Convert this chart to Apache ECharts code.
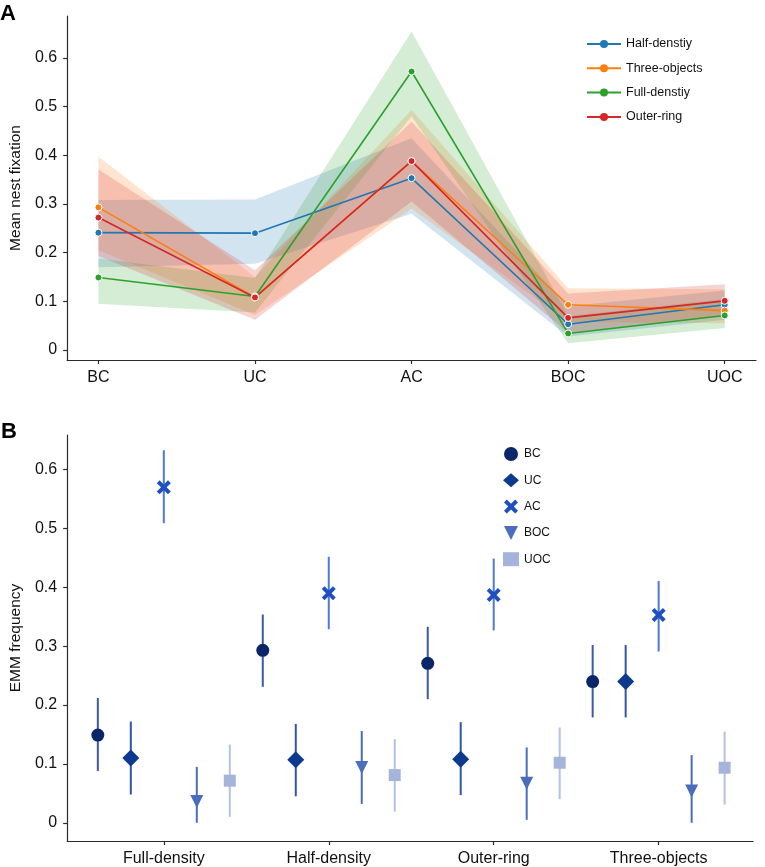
<!DOCTYPE html>
<html>
<head>
<meta charset="utf-8">
<script src="https://cdn.jsdelivr.net/npm/echarts@6/dist/echarts.min.js"></script>
<style>html,body{margin:0;padding:0;background:#fff}#c{width:765px;height:867px}</style>
</head>
<body>
<div id="c"></div>
<script>
// ---------- Panel A data ----------
const catsA = ['BC', 'UC', 'AC', 'BOC', 'UOC'];
const yTicksA = [0, 0.1, 0.2, 0.3, 0.4, 0.5, 0.6];
const halfDensity = [0.241, 0.240, 0.353, 0.053, 0.093];
const halfLo = [0.170, 0.177, 0.280, 0.028, 0.062];
const halfHi = [0.308, 0.309, 0.435, 0.090, 0.122];
const threeObjects = [0.293, 0.108, 0.388, 0.093, 0.081];
const threeLo = [0.205, 0.072, 0.290, 0.058, 0.055];
const threeHi = [0.397, 0.150, 0.493, 0.127, 0.125];
const fullDensity = [0.149, 0.110, 0.572, 0.034, 0.071];
const fullLo = [0.095, 0.077, 0.480, 0.014, 0.045];
const fullHi = [0.188, 0.148, 0.654, 0.070, 0.105];
const outerRing = [0.272, 0.108, 0.388, 0.066, 0.101];
const outerLo = [0.193, 0.062, 0.305, 0.035, 0.070];
const outerHi = [0.371, 0.164, 0.469, 0.116, 0.135];

// ---------- Panel B data ----------
const groupsB = ['Full-density', 'Half-density', 'Outer-ring', 'Three-objects'];
const yTicksB = [0, 0.1, 0.2, 0.3, 0.4, 0.5, 0.6];
const bcVal = [0.149, 0.293, 0.271, 0.240];
const bcLo = [0.088, 0.231, 0.210, 0.179];
const bcHi = [0.212, 0.354, 0.333, 0.302];
const ucVal = [0.110, 0.107, 0.108, 0.240];
const ucLo = [0.048, 0.045, 0.047, 0.179];
const ucHi = [0.172, 0.168, 0.171, 0.302];
const acVal = [0.570, 0.390, 0.387, 0.353];
const acLo = [0.509, 0.329, 0.327, 0.291];
const acHi = [0.633, 0.452, 0.449, 0.411];
const bocVal = [0.036, 0.094, 0.067, 0.054];
const bocLo = [0.000, 0.032, 0.005, 0.000];
const bocHi = [0.095, 0.156, 0.128, 0.115];
const uocVal = [0.0715, 0.081, 0.102, 0.0935];
const uocLo = [0.010, 0.019, 0.040, 0.031];
const uocHi = [0.133, 0.142, 0.162, 0.155];

const FONT = "'Liberation Sans', Arial, Helvetica, sans-serif";
const AXIS_COLOR = '#2b2b2b';

const seriesA = [
  {name: 'Half-denstiy', v: halfDensity, lo: halfLo, hi: halfHi, color: '#1f77b4'},
  {name: 'Three-objects', v: threeObjects, lo: threeLo, hi: threeHi, color: '#ff7f0e'},
  {name: 'Full-denstiy', v: fullDensity, lo: fullLo, hi: fullHi, color: '#2ca02c'},
  {name: 'Outer-ring', v: outerRing, lo: outerLo, hi: outerHi, color: '#d62728'}
];

const seriesB = [
  {name: 'BC', v: bcVal, lo: bcLo, hi: bcHi, color: '#0b2668', err: '#3a5aa6', symbol: 'circle', size: 13, off: -0.4},
  {name: 'UC', v: ucVal, lo: ucLo, hi: ucHi, color: '#0d3a8e', err: '#2f55a8', symbol: 'diamond', size: 17, off: -0.2},
  {name: 'AC', v: acVal, lo: acLo, hi: acHi, color: '#1f4fc2', err: '#4c79d6', symbol: 'path://M2,0 L5,3 L8,0 L10,2 L7,5 L10,8 L8,10 L5,7 L2,10 L0,8 L3,5 L0,2 Z', size: 14, off: 0},
  {name: 'BOC', v: bocVal, lo: bocLo, hi: bocHi, color: '#4a6ebc', err: '#4a6ebc', symbol: 'path://M0,0 L10,0 L5,10 Z', size: 13, off: 0.2},
  {name: 'UOC', v: uocVal, lo: uocLo, hi: uocHi, color: '#a4b4da', err: '#b4c1e2', symbol: 'rect', size: 12, off: 0.4}
];

const series = [];
// confidence bands (panel A) as polygons through the axis scales
seriesA.forEach(s => {
  series.push({
    type: 'custom', name: s.name + ' band', xAxisIndex: 0, yAxisIndex: 0, z: 1, silent: true,
    data: s.lo.map((y, i) => [i, y, s.hi[i]]),
    encode: {x: 0, y: [1, 2]},
    renderItem: function (params, api) {
      if (params.dataIndex !== 0) return null;
      const pts = [];
      for (let j = 0; j < s.lo.length; j++) pts.push(api.coord([j, s.hi[j]]));
      for (let j = s.lo.length - 1; j >= 0; j--) pts.push(api.coord([j, s.lo[j]]));
      return {type: 'polygon', shape: {points: pts},
        style: {fill: s.color, opacity: 0.2, stroke: 'none'}};
    }
  });
});
// lines (panel A)
seriesA.forEach(s => {
  series.push({
    type: 'line', name: s.name, xAxisIndex: 0, yAxisIndex: 0, z: 3,
    symbol: 'circle', symbolSize: 7, color: s.color,
    lineStyle: {color: s.color, width: 1.6},
    itemStyle: {color: s.color, borderColor: '#fff', borderWidth: 1},
    data: s.v.map((y, i) => [i, y])
  });
});
// panel B error bars and markers
seriesB.forEach(s => {
  series.push({
    type: 'custom', name: s.name + ' err', xAxisIndex: 1, yAxisIndex: 1, z: 2,
    data: s.v.map((y, i) => [i + s.off, s.lo[i], s.hi[i]]),
    encode: {x: 0, y: [1, 2]},
    renderItem: function (params, api) {
      const x = api.value(0);
      const p1 = api.coord([x, api.value(1)]);
      const p2 = api.coord([x, api.value(2)]);
      return {type: 'line', shape: {x1: p1[0], y1: p1[1], x2: p2[0], y2: p2[1]},
        style: {stroke: s.err, lineWidth: 2}};
    }
  });
  series.push({
    type: 'scatter', name: s.name, xAxisIndex: 1, yAxisIndex: 1, z: 3,
    symbol: s.symbol, symbolSize: s.size, color: s.color,
    itemStyle: {color: s.color, opacity: 1},
    data: s.v.map((y, i) => [i + s.off, y])
  });
});

const axisCommon = {
  axisLine: {show: true, onZero: false, lineStyle: {color: AXIS_COLOR, width: 1.2}},
  axisTick: {show: true, inside: false, length: 4, lineStyle: {color: AXIS_COLOR, width: 1.2}},
  splitLine: {show: false}
};

const option = {
  animation: false,
  backgroundColor: '#fff',
  textStyle: {fontFamily: FONT},
  grid: [
    {left: 66, top: 16, width: 690, height: 344},
    {left: 66, top: 435, width: 687, height: 406}
  ],
  xAxis: [
    Object.assign({}, axisCommon, {
      type: 'value', gridIndex: 0, min: -0.2, max: 4.2,
      axisTick: Object.assign({}, axisCommon.axisTick, {customValues: [0, 1, 2, 3, 4]}),
      axisLabel: {customValues: [0, 1, 2, 3, 4], formatter: v => catsA[Math.round(v)],
        fontSize: 16, color: '#111', margin: 10, fontFamily: FONT}
    }),
    Object.assign({}, axisCommon, {
      type: 'value', gridIndex: 1, min: -0.586, max: 3.572,
      axisTick: Object.assign({}, axisCommon.axisTick, {customValues: [0, 1, 2, 3]}),
      axisLabel: {customValues: [0, 1, 2, 3], formatter: v => groupsB[Math.round(v)],
        fontSize: 16, color: '#111', margin: 10, fontFamily: FONT}
    })
  ],
  yAxis: [
    Object.assign({}, axisCommon, {
      type: 'value', gridIndex: 0, min: -0.0205, max: 0.686,
      name: 'Mean nest fixation', nameLocation: 'middle', nameGap: 42,
      nameTextStyle: {fontSize: 15.5, color: '#111', fontFamily: FONT},
      axisTick: Object.assign({}, axisCommon.axisTick, {customValues: yTicksA}),
      axisLabel: {customValues: yTicksA, formatter: v => (v === 0 ? '0' : v.toFixed(1)),
        fontSize: 16, color: '#111', margin: 10, fontFamily: FONT}
    }),
    Object.assign({}, axisCommon, {
      type: 'value', gridIndex: 1, min: -0.031, max: 0.659,
      name: 'EMM frequency', nameLocation: 'middle', nameGap: 42,
      nameTextStyle: {fontSize: 15.5, color: '#111', fontFamily: FONT},
      axisTick: Object.assign({}, axisCommon.axisTick, {customValues: yTicksB}),
      axisLabel: {customValues: yTicksB, formatter: v => (v === 0 ? '0' : v.toFixed(1)),
        fontSize: 16, color: '#111', margin: 10, fontFamily: FONT}
    })
  ],
  legend: [
    {
      data: seriesA.map(s => s.name), orient: 'vertical', left: 586, top: 37, padding: 0,
      itemWidth: 34, itemHeight: 10, itemGap: 10.3,
      itemStyle: {borderWidth: 0},
      textStyle: {fontSize: 12.5, color: '#111', fontFamily: FONT, lineHeight: 14},
      selectedMode: false
    },
    {
      data: seriesB.map(s => s.name), orient: 'vertical', left: 503, top: 447, padding: 0,
      itemWidth: 16, itemHeight: 14, itemGap: 12.3,
      textStyle: {fontSize: 12, color: '#111', fontFamily: FONT, lineHeight: 14},
      selectedMode: false
    }
  ],
  graphic: [
    {type: 'text', left: 0, top: 3, style: {text: 'A', font: 'bold 22px ' + FONT, fill: '#000'}},
    {type: 'text', left: 1, top: 421, style: {text: 'B', font: 'bold 22px ' + FONT, fill: '#000'}}
  ],
  series: series
};

const chart = echarts.init(document.getElementById('c'), null, {renderer: 'canvas'});
chart.setOption(option);
</script>
</body>
</html>
